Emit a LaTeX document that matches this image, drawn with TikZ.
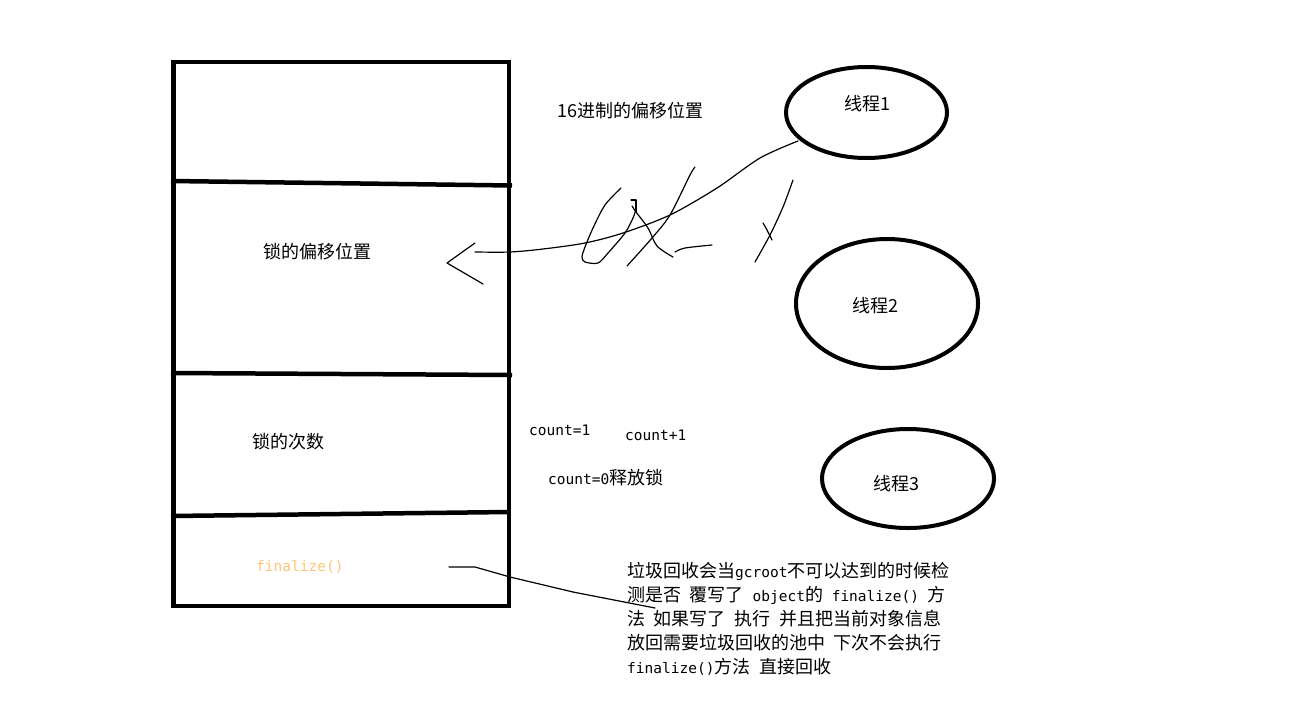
\documentclass[tikz,border=0pt]{standalone}
\usepackage{fontspec}
\setmainfont{Noto Sans CJK SC}
\newfontfamily\monofont{DejaVu Sans Mono}
\usetikzlibrary{shapes.geometric}
\definecolor{finorange}{HTML}{FFC47A}
\newcommand{\mm}[1]{{\monofont\fontsize{14.5}{18}\selectfont #1}}
\newcommand{\mc}[1]{{\monofont\fontsize{14.5}{18}\selectfont #1}}
\tikzset{
  frame/.style={line width=4.5pt},
  ring/.style={draw, ellipse, line width=4pt, inner sep=0pt},
  lbl/.style={inner sep=0pt, font=\fontsize{18}{22}\selectfont},
  para/.style={inner sep=0pt, anchor=base west, font=\fontsize{18}{22}\selectfont},
  pen/.style={line width=1.2pt, line cap=round, line join=round},
}
\begin{document}
\begin{tikzpicture}[x=1pt, y=-1pt]
\useasboundingbox (0,0) rectangle (1316,704);
\fill[white] (0,0) rectangle (1316,704);

% memory block
\draw[frame] (173.5,62) rectangle (509,606);
\coordinate (d1l) at (171,181); \coordinate (d1r) at (512,185.5);
\coordinate (d2l) at (171,373); \coordinate (d2r) at (512,375);
\coordinate (d3l) at (171,516); \coordinate (d3r) at (509,512);
\draw[frame] (d1l) -- (d1r);
\draw[frame] (d2l) -- (d2r);
\draw[frame] (d3l) -- (d3r);

\node[lbl] (lockpos) at (317,252) {锁的偏移位置};
\node[lbl] (lockcnt) at (288,442) {锁的次数};
\node[inner sep=0pt, anchor=west, text=finorange] (fin) at (256,567) {\mc{finalize()}};

% threads
\node[ring, minimum width=161pt, minimum height=91pt] (t1) at (866.5,112.5) {};
\node[ring, minimum width=182pt, minimum height=129pt] (t2) at (887,303.5) {};
\node[ring, minimum width=172pt, minimum height=99pt] (t3) at (908,478.5) {};
\node[lbl] (t1l) at (867,104) {线程1};
\node[lbl] (t2l) at (875,306) {线程2};
\node[lbl] (t3l) at (896,484) {线程3};

\node[lbl, anchor=west] (hex) at (557,111) {16进制的偏移位置};

\node[inner sep=0pt, anchor=west] (c1) at (529,430) {\mc{count=1}};
\node[inner sep=0pt, anchor=west] (c2) at (625,435) {\mc{count+1}};
\node[lbl, anchor=west] (c0) at (548,478) {\mc{count=0}释放锁};

% arrow from thread 1 to the lock position
\coordinate (as) at (798,141);
\coordinate (ae) at (475,252);
\draw[pen] plot[smooth, tension=0.5] coordinates {(as) (760,158) (717,188) (670,215) (623,233) (585,243) (543,249) (510,252) (ae)};
\coordinate (h1) at (475,243);
\coordinate (h2) at (447,263);
\coordinate (h3) at (483,284);
\draw[pen] (h1) -- (h2) -- (h3);

% scribbles
\draw[pen] plot[smooth, tension=0.5] coordinates {(621,188) (605,205) (593,228) (585,247) (582,257) (585,262) (598,263) (608,253) (625,233) (633,218) (635,212)};
\draw[pen] (631,200) -- (636,200) -- (636,212);
\draw[pen] plot[smooth, tension=0.5] coordinates {(632,206) (636,212) (648,228) (657,246) (673,257)};
\draw[pen] plot[smooth, tension=0.5] coordinates {(627,266) (652,238) (670,215) (690,175) (695,167)};
\draw[pen] plot[smooth, tension=0.5] coordinates {(675,252) (685,248) (712,245)};
\draw[pen] plot[smooth, tension=0.5] coordinates {(793,180) (783,207) (770,235) (755,262)};
\draw[pen] plot[smooth, tension=0.5] coordinates {(763,223) (767,230) (772,240)};

% finalize pointer
\coordinate (fs) at (449,567);
\coordinate (fe) at (655,608);
\draw[pen] (fs) -- (475,567) -- (510,577) -- (573,592) -- (fe);

% explanation text
\node[para] (p1) at (627,577) {垃圾回收会当\mm{gcroot}不可以达到的时候检};
\node[para] (p2) at (627,601) {测是否\mm{ }覆写了\mm{ object}的\mm{ finalize() }方};
\node[para] (p3) at (627,625) {法\mm{ }如果写了\mm{ }执行\mm{ }并且把当前对象信息};
\node[para] (p4) at (627,649) {放回需要垃圾回收的池中\mm{ }下次不会执行};
\node[para] (p5) at (627,673) {\mm{finalize()}方法\mm{ }直接回收};
\end{tikzpicture}
\end{document}
